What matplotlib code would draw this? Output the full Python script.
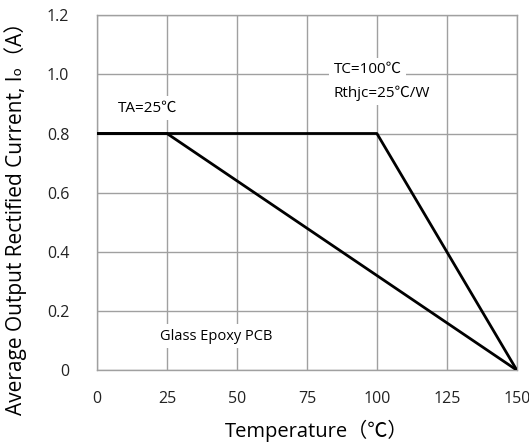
import matplotlib
matplotlib.use("Agg")
import matplotlib.pyplot as plt

plt.rcParams['font.family'] = ['Open Sans', 'Noto Sans CJK SC', 'DejaVu Sans']

# derating curves: (temperature, current)
ambient_t = [0, 25, 150]
ambient_i = [0.8, 0.8, 0.0]
case_t = [0, 100, 150]
case_i = [0.8, 0.8, 0.0]

x_ticks = [0, 25, 50, 75, 100, 125, 150]
y_ticks = [0, 0.2, 0.4, 0.6, 0.8, 1.0, 1.2]
y_labels = ["0", "0.2", "0.4", "0.6", "0.8", "1.0", "1.2"]

fig = plt.figure(figsize=(5.29, 4.46), dpi=100)
ax = fig.add_axes([0.1834, 0.170, 0.7936, 0.796])

ax.plot(ambient_t, ambient_i, color="black", lw=2.0, solid_capstyle="butt", zorder=3)
ax.plot(case_t, case_i, color="black", lw=2.0, solid_capstyle="butt", zorder=3)

ax.set_xlim(0, 150)
ax.set_ylim(0, 1.2)
ax.set_xticks(x_ticks)
ax.set_yticks(y_ticks)
ax.set_yticklabels(y_labels)
ax.grid(True, color="#a0a0a0", lw=1.0, zorder=0)
ax.set_axisbelow(True)
for s in ax.spines.values():
    s.set_color("#a0a0a0")
    s.set_linewidth(1.0)
ax.tick_params(length=0, labelsize=11.5, colors="#222222")
ax.tick_params(axis="x", pad=15)
ax.tick_params(axis="y", pad=20)

box = dict(facecolor="white", edgecolor="none", pad=3)
ax.text(7.5, 0.886, "TA=25℃", fontsize=11, va="center", ha="left", bbox=box, zorder=2)
ax.text(84.5, 1.017, "TC=100℃", fontsize=11, va="center", ha="left", bbox=box, zorder=2)
ax.text(84.5, 0.936, "Rthjc=25℃/W", fontsize=11, va="center", ha="left", bbox=box, zorder=2)
ax.text(22.5, 0.115, "Glass Epoxy PCB", fontsize=10.5, va="center", ha="left", bbox=box, zorder=2)

ax.set_xlabel("Temperature（℃）", fontsize=14.5)
ax.set_ylabel("Average Output Rectified Current, Iₒ（A）", fontsize=15)
ax.xaxis.set_label_coords(0.524, -0.141)
ax.yaxis.set_label_coords(-0.167, 0.442)

fig.savefig("out.png", dpi=100)
